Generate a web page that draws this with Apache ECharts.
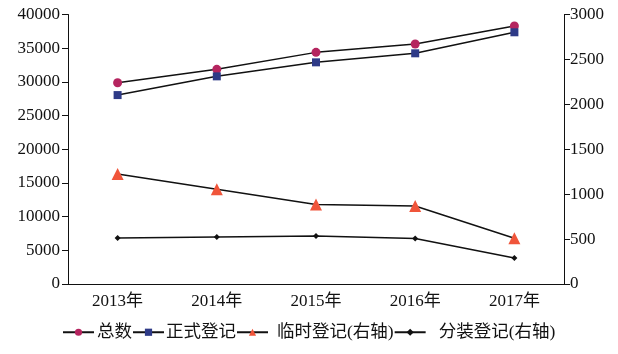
<!DOCTYPE html>
<html>
<head>
<meta charset="utf-8">
<script src="https://cdn.jsdelivr.net/npm/echarts@6/dist/echarts.min.js"></script>
<style>
  html, body { margin: 0; padding: 0; background: #fff; }
  #chart { width: 618px; height: 354px; }
</style>
</head>
<body>
<div id="chart"></div>
<script>
// 年份
const years = ['2013年', '2014年', '2015年', '2016年', '2017年']
// 左轴
const total = [29870, 31860, 34380, 35620, 38290]
const formal = [28040, 30820, 32900, 34240, 37360]
// 右轴
const temp = [1225, 1055, 885, 868, 510]
const split = [513, 524, 535, 506, 290]
const leftTicks = [0, 40000, 5000]
const rightTicks = [0, 3000, 500]

const FONT = '"Liberation Serif", "Noto Sans CJK SC", serif'

function lineSeries(name, data, symbol, size, color, axis) {
  return {
    name: name,
    type: 'line',
    yAxisIndex: axis,
    data: data,
    symbol: symbol,
    symbolSize: size,
    itemStyle: { color: color },
    lineStyle: { color: '#111', width: 1.5 },
    emphasis: { disabled: true }
  }
}

const chart = echarts.init(document.getElementById('chart'))
const option = {
  animation: false,
  grid: { left: 68, right: 54, top: 14.5, bottom: 70 },
  legend: {
    bottom: 8,
    left: 57,
    itemWidth: 31,
    itemHeight: 9,
    itemGap: 0,
    textStyle: { fontFamily: FONT, fontSize: 17.5, color: '#111' },
    data: [
      { name: '总数', textStyle: { padding: [0, 0, 0, -2] } },
      { name: '正式登记', textStyle: { padding: [0, 0, 0, -3] } },
      { name: '临时登记(右轴)', textStyle: { padding: [0, 0, 0, 4] } },
      { name: '分装登记(右轴)', textStyle: { padding: [0, 0, 0, 8] } }
    ]
  },
  xAxis: {
    type: 'category',
    data: years,
    axisLine: { lineStyle: { color: '#111', width: 1 } },
    axisTick: { show: false },
    axisLabel: { fontFamily: FONT, fontSize: 17, color: '#111', margin: 9 }
  },
  yAxis: [
    {
      type: 'value',
      min: leftTicks[0], max: leftTicks[1], interval: leftTicks[2],
      splitLine: { show: false },
      axisLine: { show: true, lineStyle: { color: '#111' } },
      axisTick: { show: true, length: 6, lineStyle: { color: '#111' } },
      axisLabel: { fontFamily: FONT, fontSize: 17, color: '#111', margin: 8, formatter: v => String(v) }
    },
    {
      type: 'value',
      min: rightTicks[0], max: rightTicks[1], interval: rightTicks[2],
      splitLine: { show: false },
      axisLine: { show: true, lineStyle: { color: '#111' } },
      axisTick: { show: true, length: 6, lineStyle: { color: '#111' } },
      axisLabel: { fontFamily: FONT, fontSize: 17, color: '#111', margin: 6, formatter: v => String(v) }
    }
  ],
  series: [
    lineSeries('总数', total, 'circle', 9, '#B5245F', 0),
    lineSeries('正式登记', formal, 'rect', 8, '#2E3A87', 0),
    lineSeries('临时登记(右轴)', temp, 'triangle', 12, '#F0553A', 1),
    lineSeries('分装登记(右轴)', split, 'diamond', 6, '#111', 1)
  ]
}
chart.setOption(option)
</script>
</body>
</html>
